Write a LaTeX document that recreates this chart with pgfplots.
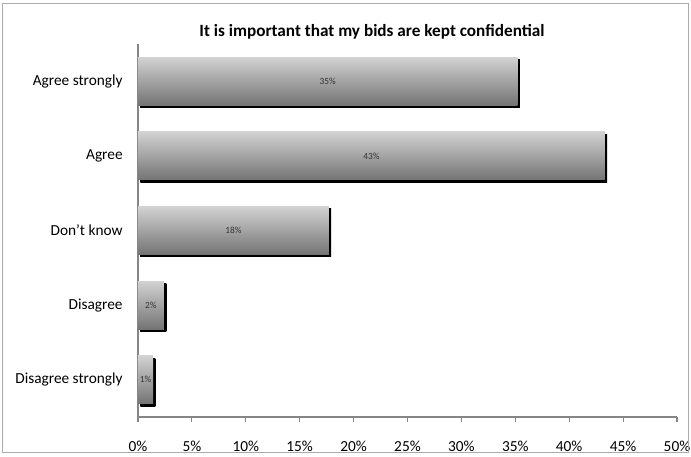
\documentclass[border=0pt]{standalone}
\usepackage{fontspec}
\setmainfont{Carlito}
\usepackage{pgfplots}
\pgfplotsset{compat=1.18}
\usepackage{pgfplotstable}
\usetikzlibrary{shadows}

\definecolor{barTop}{RGB}{210,210,210}
\definecolor{barBot}{RGB}{116,116,116}
\definecolor{axisGray}{RGB}{134,134,134}
\definecolor{frameGray}{RGB}{170,170,170}

% idx 4 = top row
\pgfplotstableread{
idx share
4 35.2
3 43.3
2 17.7
1 2.4
0 1.4
}\responses

\begin{document}
\begin{tikzpicture}[x=0.75pt,y=0.75pt]
\begin{axis}[
  scale only axis, width=404.25pt, height=279.75pt,
  xmin=0, xmax=50, ymin=-0.5, ymax=4.5,
  axis x line*=bottom, axis y line*=left,
  axis line style={axisGray, line width=0.8pt},
  tick align=outside,
  xtick={0,5,...,50},
  xticklabel={\pgfmathprintnumber{\tick}\%},
  /pgf/number format/assume math mode=true,
  ytick={0,1,2,3,4},
  yticklabels={Disagree strongly, Disagree, Don't know, Agree, Agree strongly},
  minor ytick={-0.5,0.5,1.5,2.5,3.5,4.5},
  ytick style={draw=none},
  xtick style={axisGray, line width=0.8pt},
  minor tick style={axisGray, line width=0.8pt},
  major tick length=3.5pt, minor tick length=3.5pt,
  tick label style={font=\fontsize{11.5}{13}\selectfont, black},
  xticklabel style={yshift=-11pt},
  yticklabel style={xshift=-4.5pt},
  clip=false,
]
% one plot per bar so that each bar gets its own top-to-bottom shading
\pgfplotsinvokeforeach{0,...,4}{
  \addplot[xbar, bar width=36pt, bar shift=0pt, draw=none,
    top color=barTop, bottom color=barBot,
    drop shadow={shadow xshift=1.8pt, shadow yshift=-1.8pt,
      top color=black, bottom color=black, fill=black, opacity=1},
    restrict expr to domain={\thisrow{idx}}{#1:#1}]
    table[x=share, y=idx] {\responses};
}
\addplot[only marks, mark=none, point meta=\thisrow{share},
  nodes near coords={\pgfmathprintnumber[fixed,precision=0]{\pgfplotspointmeta}\%},
  every node near coord/.append style={anchor=center, text=black!80,
    font=\fontsize{7}{8}\selectfont}]
  table[x expr=\thisrow{share}/2, y=idx] {\responses};
% baseline of the value axis, drawn over the plot area's lower edge
\draw[axisGray, line width=0.8pt] (rel axis cs:0,0) -- (rel axis cs:1,0);
\coordinate (o) at (rel axis cs:0,0);
\end{axis}
% chart area around the plot box
\pgfresetboundingbox
\path[use as bounding box] ([shift={(-138,-39)}]o) rectangle ([shift={(553,417)}]o);
\draw[frameGray, line width=0.75pt] ([shift={(-135,-35)}]o) rectangle ([shift={(550,413)}]o);
\node[font=\bfseries\fontsize{12.9}{15}\selectfont] at ([shift={(234,385)}]o)
  {It is important that my bids are kept confidential};
\end{tikzpicture}
\end{document}
